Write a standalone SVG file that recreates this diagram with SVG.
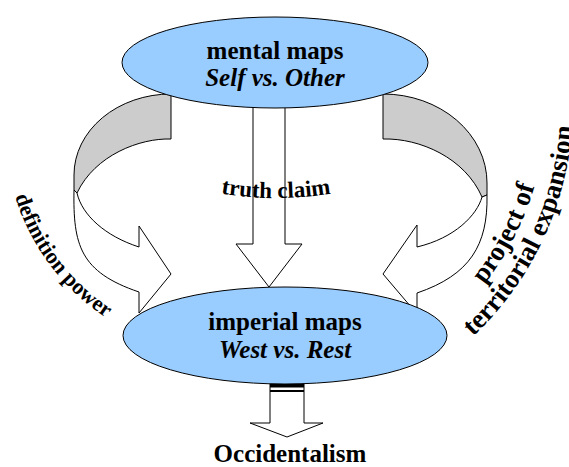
<svg xmlns="http://www.w3.org/2000/svg" width="569" height="467" viewBox="0 0 569 467">
<style>
.ln{stroke:#000;stroke-width:1;stroke-linejoin:miter}
.w{fill:#fff}
.g{fill:#cccccc}
.ell{fill:#99ccff;stroke:#000;stroke-width:1}
.t{font-family:"Liberation Serif","Times New Roman",serif;font-weight:bold;font-size:25px;fill:#000}
.it{font-style:italic}
.c{text-anchor:middle}
</style>
<defs>
<path id="pL" d="M 8.4 169.1 A 225 225 0 0 0 134.9 333.9"/>
<path id="pR2" d="M 437.4 365.5 A 318 318 0 0 0 562.2 22.7"/>
<path id="pR1" d="M 421.9 343.4 A 291 291 0 0 0 536.1 29.7"/>
<path id="pT" d="M 212 192 Q 276 204 340 192"/>
</defs>
<g id="connectors">
<g id="arrow-left">
<path class="ln g" d="M 171 94 A 97 81 0 0 0 74 175 L 74 190 L 77 193 C 95 155 140 138 171 139 Z"/>
<path class="ln w" d="M 77 193 C 82 215 105 236 139 247 L 139 226 L 171 274 L 139 313 L 139 292 C 80 272 73 245 74 190 Z"/>
</g>
<g id="arrow-right">
<path class="ln g" d="M 383 94 A 104 89 0 0 1 487 183 L 487 195 L 482 197 C 465 158 420 138 383 139 Z"/>
<path class="ln w" d="M 482 197 C 477 215 455 238 417 247 L 417 225 L 383 274 L 417 314 L 417 293 C 470 275 488 245 487 195 Z"/>
</g>
<g id="arrow-center">
<path class="ln w" d="M 253 100 L 253 244 L 236 244 L 269 287 L 302 244 L 285 244 L 285 100 Z"/>
</g>
<g id="arrow-bottom">
<path class="ln w" d="M 270 380 L 270 423 L 250 423 L 287 437 L 323 423 L 304 423 L 304 380 Z"/>
<rect x="270" y="383" width="34" height="4.5" fill="#000"/>
<rect x="270" y="390" width="34" height="2" fill="#000"/>
</g>
</g>
<g id="node-mental">
<ellipse class="ell" cx="275" cy="62.5" rx="153" ry="45.5"/>
<text class="t c" x="275" y="59">mental maps</text>
<text class="t c it" x="275" y="86">Self vs. Other</text>
</g>
<g id="node-imperial">
<ellipse class="ell" cx="285" cy="335.5" rx="162" ry="48.5"/>
<text class="t c" x="285" y="330">imperial maps</text>
<text class="t c it" x="285" y="358">West vs. Rest</text>
</g>
<g id="node-occidentalism">
<text class="t c" x="290" y="462">Occidentalism</text>
</g>
<g id="labels">
<text class="t" style="font-size:23px"><textPath href="#pT" startOffset="50%" text-anchor="middle">truth claim</textPath></text>
<text class="t" style="font-size:22px"><textPath href="#pL" startOffset="28">definition power</textPath></text>
<text class="t" style="font-size:27px"><textPath href="#pR1" startOffset="86">project of</textPath></text>
<text class="t" style="font-size:27px"><textPath href="#pR2" startOffset="46">territorial expansion</textPath></text>
</g>
</svg>
